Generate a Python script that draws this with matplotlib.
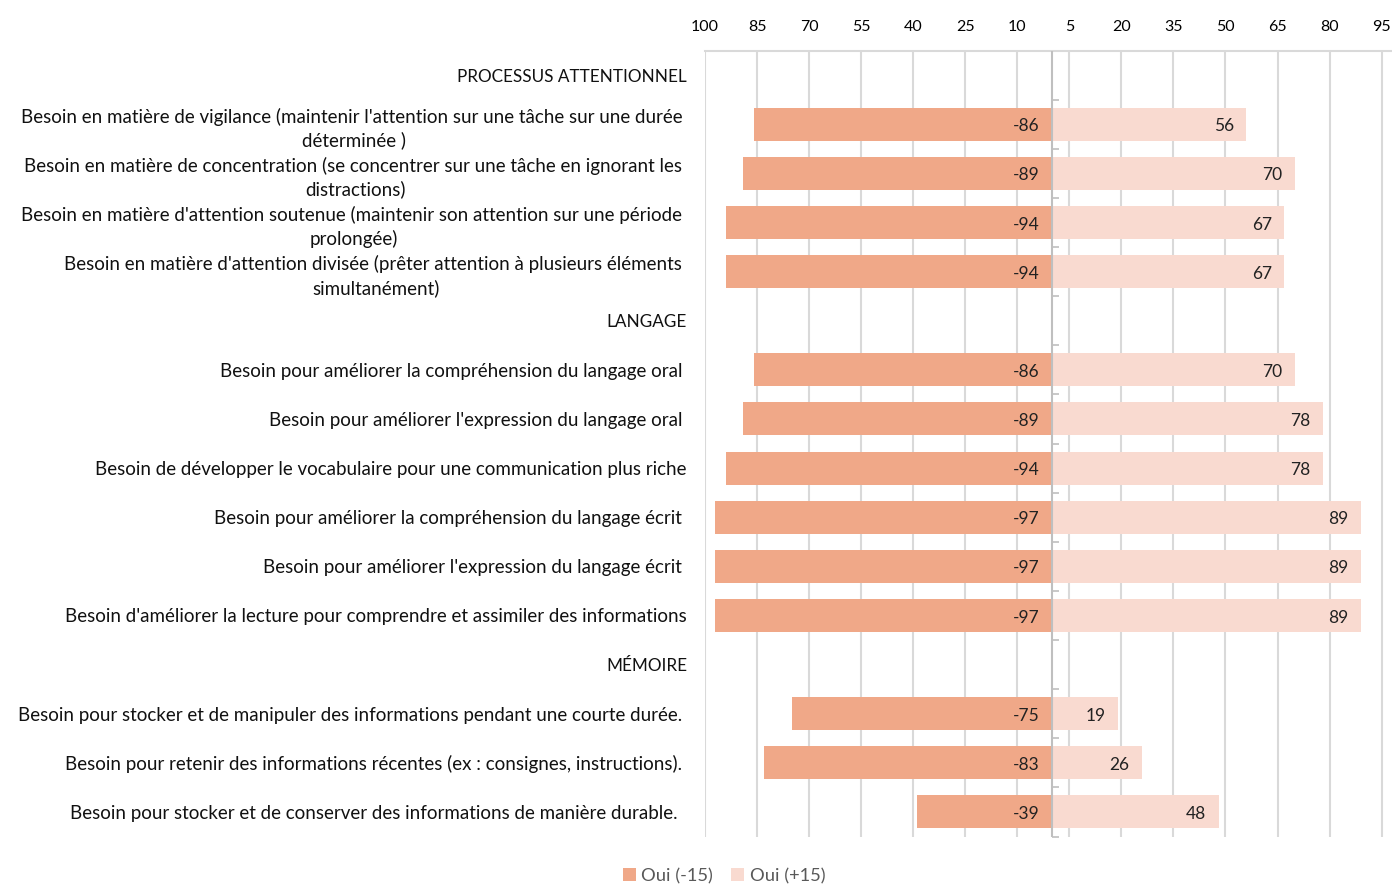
import numpy as np
import matplotlib
matplotlib.use("Agg")
import matplotlib.pyplot as plt
from matplotlib.patches import Patch

plt.rcParams['font.family'] = ['Lato', 'DejaVu Sans']

categories = [
    "PROCESSUS ATTENTIONNEL",
    "Besoin en matière de vigilance (maintenir l'attention sur une tâche sur une durée \ndéterminée )",
    "Besoin en matière de concentration (se concentrer sur une tâche en ignorant les \ndistractions)",
    "Besoin en matière d'attention soutenue (maintenir son attention sur une période \nprolongée)",
    "Besoin en matière d'attention divisée (prêter attention à plusieurs éléments \nsimultanément)",
    "LANGAGE",
    "Besoin pour améliorer la compréhension du langage oral ",
    "Besoin pour améliorer l'expression du langage oral ",
    "Besoin de développer le vocabulaire pour une communication plus riche",
    "Besoin pour améliorer la compréhension du langage écrit ",
    "Besoin pour améliorer l'expression du langage écrit ",
    "Besoin d'améliorer la lecture pour comprendre et assimiler des informations",
    "MÉMOIRE",
    "Besoin pour stocker et de manipuler des informations pendant une courte durée. ",
    "Besoin pour retenir des informations récentes (ex : consignes, instructions). ",
    "Besoin pour stocker et de conserver des informations de manière durable.  ",
]
headers = ["PROCESSUS ATTENTIONNEL", "LANGAGE", "MÉMOIRE"]
oui_moins15 = [None, -86, -89, -94, -94, None, -86, -89, -94, -97, -97, -97, None, -75, -83, -39]
oui_plus15 = [None, 56, 70, 67, 67, None, 70, 78, 78, 89, 89, 89, None, 19, 26, 48]
series_names = ["Oui (-15)", "Oui (+15)"]
tick_values = list(range(-100, 100, 15))

c_dark = "#F0A888"
c_light = "#F9DAD0"
grid_c = "#D9D9D9"
zero_c = "#BFBFBF"

fig = plt.figure(figsize=(13.92, 8.85), dpi=100)
ax = fig.add_axes([705/1392, 1-836.5/885, 687/1392, 786/885])

y = np.arange(len(categories))
neg = np.array([np.nan if v is None else v for v in oui_moins15], dtype=float)
pos = np.array([np.nan if v is None else v for v in oui_plus15], dtype=float)

bh = 0.67
ax.barh(y, neg, height=bh, color=c_dark, zorder=3)
ax.barh(y, pos, height=bh, color=c_light, zorder=3)
ax.axvline(0, color=zero_c, linewidth=1.5, zorder=5)

for yi, v in zip(y, neg):
    if not np.isnan(v):
        ax.annotate(f"{int(v)}", xy=(0, yi), xytext=(-9, -1.5), textcoords="offset points",
                    ha="right", va="center", fontsize=12.5, color="#222222", zorder=6)
for yi, v in zip(y, pos):
    if not np.isnan(v):
        ax.annotate(f"{int(v)}", xy=(v, yi), xytext=(-9, -1.5), textcoords="offset points",
                    ha="right", va="center", fontsize=12.5, color="#222222", zorder=6)

ax.set_xlim(-100, 98)
ax.set_ylim(len(categories) - 0.5, -0.5)

ax.set_xticks(tick_values)
ax.set_xticklabels([str(abs(t)) for t in tick_values], fontsize=11.5)
for t, lab in zip(tick_values, ax.get_xticklabels()):
    lab.set_color("#1a1a1a" if t < 0 else "#7f7f7f")
ax.xaxis.set_ticks_position("top")
ax.tick_params(axis="x", length=0, pad=12)
ax.grid(axis="x", color=grid_c, linewidth=1.5, zorder=0)

ax.set_yticks(y)
ax.set_yticklabels(categories, fontsize=13.5, multialignment="center", color="#111111",
                   linespacing=1.38)
for lab in ax.get_yticklabels():
    if lab.get_text() in headers:
        lab.set_fontsize(12.3)
ax.tick_params(axis="y", length=0, pad=13)

for s in ["right", "bottom", "left"]:
    ax.spines[s].set_visible(False)
ax.spines["top"].set_color(grid_c)
ax.spines["top"].set_linewidth(1.5)

# tick marks on the zero axis at category boundaries
x0 = (0 - ax.get_xlim()[0]) / (ax.get_xlim()[1] - ax.get_xlim()[0])
sec = ax.secondary_yaxis(x0)
sec.set_yticks(np.arange(-0.5, len(categories), 1.0))
sec.set_yticklabels([])
sec.tick_params(axis="y", direction="out", length=5, width=1.2, color=zero_c)
for s in sec.spines.values():
    s.set_visible(False)

handles = [Patch(facecolor=c_dark, edgecolor="none"), Patch(facecolor=c_light, edgecolor="none")]
fig.legend(handles, series_names, loc="center", bbox_to_anchor=(724/1392, 1-876/885), ncol=2,
           frameon=False, fontsize=13.2, labelcolor="#595959", handlelength=0.7, handleheight=0.7,
           handletextpad=0.3, columnspacing=1.0)

fig.savefig("out.png", dpi=100, facecolor="white")
